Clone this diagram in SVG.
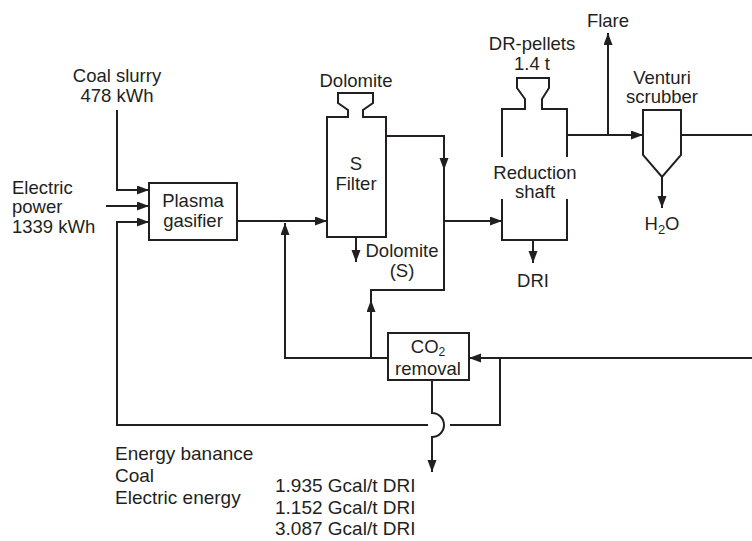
<svg xmlns="http://www.w3.org/2000/svg" width="752" height="541" viewBox="0 0 752 541">
<style>
.s{fill:none;stroke:#231f20;stroke-width:2}
.b{fill:#fff;stroke:#231f20;stroke-width:2}
text{font-family:"Liberation Sans",Arial,sans-serif;font-size:18.5px;fill:#231f20}
.m{text-anchor:middle}
.e{font-size:19px}
.a{marker-end:url(#ar)}
</style>
<defs>
<marker id="ar" markerUnits="userSpaceOnUse" markerWidth="13" markerHeight="10" refX="12" refY="4.5" orient="auto">
<path d="M0,0 L12,4.5 L0,9 Z" fill="#231f20"/>
</marker>
</defs>
<rect width="752" height="541" fill="#fff"/>
<g id="connectors">
<path class="s a" d="M117,110 V190 H149"/>
<path class="s a" d="M106,206 H149"/>
<path class="s" d="M500,358 V425 H450"/>
<path class="s a" d="M428,425 H117 V222 H149"/>
<path class="s a" d="M752,358 H469"/>
<path class="s a" d="M237,221 H327"/>
<path class="s a" d="M388,358 H285 V223"/>
<path class="s a" d="M371,358 V300"/>
<path class="s" d="M371,302 V290 H444 V222"/>
<path class="s a" d="M386,136 H444 V170"/>
<path class="s a" d="M444,168 V221 H502"/>
<path class="s a" d="M356,237 V262"/>
<path class="s a" d="M533,240 V263"/>
<path class="s a" d="M567,135 H643"/>
<path class="s a" d="M608,135 V33"/>
<path class="s a" d="M662,177 V208"/>
<path class="s" d="M681,135 H752"/>
<path class="s a" d="M432,380 V413 A12,12 0 0 1 432,437 V472"/>
</g>
<g id="coal-slurry">
<text class="m" x="117" y="82">Coal slurry</text>
<text class="m" x="117" y="101.5">478 kWh</text>
</g>
<g id="electric-power">
<text x="12" y="193.5">Electric</text>
<text x="12" y="213">power</text>
<text x="12" y="232.5">1339 kWh</text>
</g>
<g id="plasma-gasifier">
<rect class="b" x="149" y="183" width="88" height="57"/>
<text class="m" x="193" y="206.5">Plasma</text>
<text class="m" x="193" y="226.5">gasifier</text>
</g>
<g id="s-filter">
<path class="b" d="M327,237 V117 H348 V110 L338,103 V93 H373 V103 L363,110 V117 H386 V237 Z"/>
<text class="m" x="356" y="87">Dolomite</text>
<text class="m" x="356" y="170">S</text>
<text class="m" x="356" y="190">Filter</text>
</g>
<g id="dolomite-s">
<text class="m" x="402" y="256.5">Dolomite</text>
<text class="m" x="402" y="276.5">(S)</text>
</g>
<g id="reduction-shaft">
<path class="s" d="M502,157 V109 H525 V99 L517,88 V78 H549 V88 L542,99 V109 H567 V157"/>
<path class="s" d="M502,199 V240 H567 V199"/>
<text class="m" x="532" y="50">DR-pellets</text>
<text class="m" x="532" y="70">1.4 t</text>
<text class="m" x="535" y="178.5">Reduction</text>
<text class="m" x="535" y="197.5">shaft</text>
</g>
<g id="dri">
<text class="m" x="533" y="286.5">DRI</text>
</g>
<g id="flare">
<text class="m" x="608" y="27">Flare</text>
</g>
<g id="venturi-scrubber">
<path class="b" d="M643,110 H681 V155 L662,177 L643,155 Z"/>
<text class="m" x="662" y="83.5">Venturi</text>
<text class="m" x="662" y="102.5">scrubber</text>
</g>
<g id="h2o">
<text class="m" x="662" y="230">H<tspan font-size="13" dy="4">2</tspan><tspan dy="-4">O</tspan></text>
</g>
<g id="co2-removal">
<rect class="b" x="388" y="333" width="81" height="47"/>
<text class="m" x="428" y="352.5">CO<tspan font-size="12" dy="3">2</tspan></text>
<text class="m" x="428" y="375">removal</text>
</g>
<g id="energy-balance">
<text class="e" x="115" y="460">Energy banance</text>
<text class="e" x="115" y="482">Coal</text>
<text class="e" x="115" y="504">Electric energy</text>
<text class="e" x="275" y="492">1.935 Gcal/t DRI</text>
<text class="e" x="275" y="513.5">1.152 Gcal/t DRI</text>
<text class="e" x="275" y="535">3.087 Gcal/t DRI</text>
</g>
</svg>
